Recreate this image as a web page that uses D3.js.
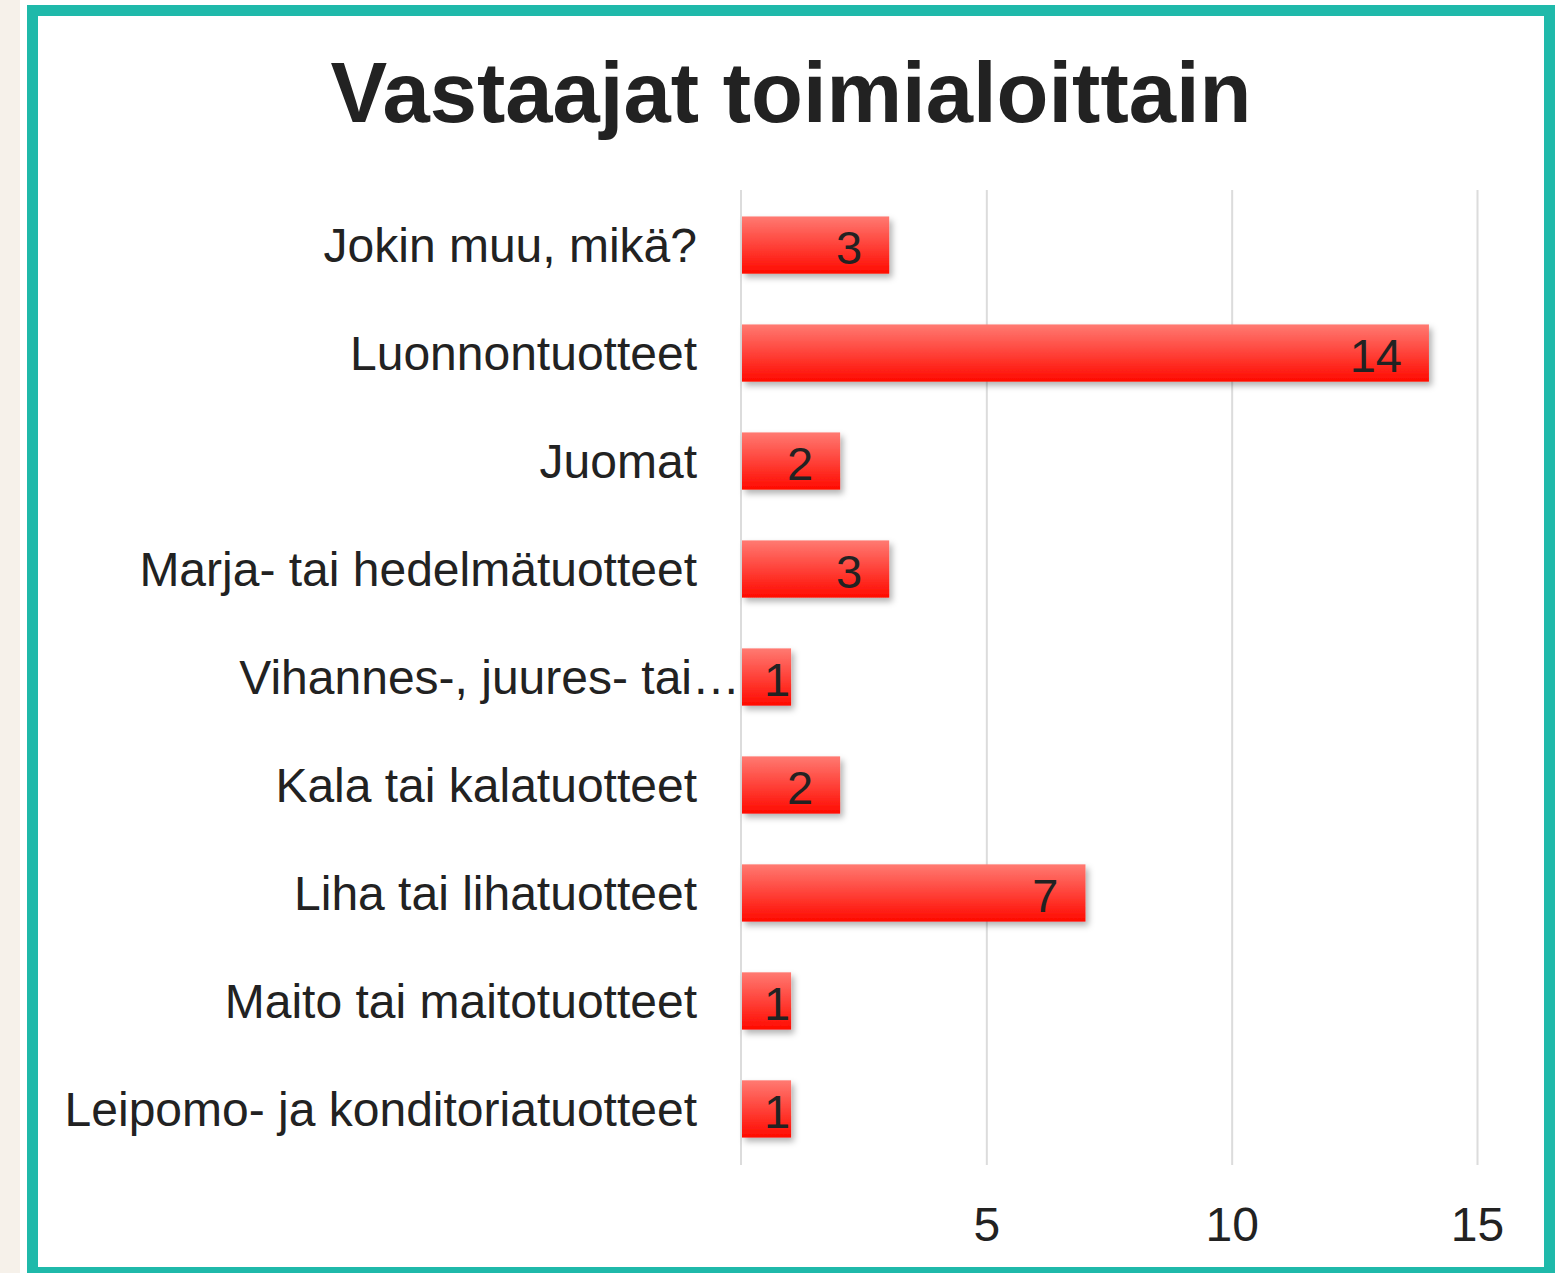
<!DOCTYPE html>
<html lang="fi">
<head>
    <meta charset="UTF-8">
    <title>Vastaajat toimialoittain</title>
    <script src="https://d3js.org/d3.v7.min.js"></script>
    <style>
        body {
            margin: 0;
            background-color: #f6f1ea;
            font-family: "Liberation Sans", Arial, sans-serif;
        }
        svg { display: block; }
        .title {
            font-size: 85px;
            font-weight: bold;
            fill: #222;
        }
        .cat text, .ticks text {
            font-family: "Liberation Sans", Arial, sans-serif;
            font-size: 48px;
            fill: #222;
        }
        .ticks line, .zero {
            stroke: #dcdcdc;
            stroke-width: 2;
        }
        .value {
            font-size: 47px;
            fill: #222;
        }
    </style>
</head>
<body>
<div id="chart"></div>
<script>
    // data
    var categories = [
        "Jokin muu, mikä?",
        "Luonnontuotteet",
        "Juomat",
        "Marja- tai hedelmätuotteet",
        "Vihannes-, juures- tai…",
        "Kala tai kalatuotteet",
        "Liha tai lihatuotteet",
        "Maito tai maitotuotteet",
        "Leipomo- ja konditoriatuotteet"
    ];
    var counts = [3, 14, 2, 3, 1, 2, 7, 1, 1];
    var xTicks = [5, 10, 15];
    var title = "Vastaajat toimialoittain";

    var W = 1557, H = 1273;

    var svg = d3.select("#chart").append("svg")
        .attr("width", W)
        .attr("height", H);

    var defs = svg.append("defs");
    var grad = defs.append("linearGradient")
        .attr("id", "barGrad")
        .attr("x1", 0).attr("y1", 0).attr("x2", 0).attr("y2", 1);
    grad.append("stop").attr("offset", "0%").attr("stop-color", "#ff7a72");
    grad.append("stop").attr("offset", "100%").attr("stop-color", "#ff0a00");

    var shadow = defs.append("filter")
        .attr("id", "shadow")
        .attr("x", "-10%").attr("y", "-20%")
        .attr("width", "130%").attr("height", "160%");
    shadow.append("feDropShadow")
        .attr("dx", 3).attr("dy", 4)
        .attr("stdDeviation", 3)
        .attr("flood-color", "#000")
        .attr("flood-opacity", 0.3);

    // white panel + teal frame
    svg.append("rect")
        .attr("x", 20).attr("y", 0)
        .attr("width", W - 20).attr("height", H)
        .attr("fill", "#fff");
    svg.append("rect")
        .attr("x", 32.5).attr("y", 10.5)
        .attr("width", 1517).attr("height", 1262)
        .attr("fill", "none")
        .attr("stroke", "#1fb9aa")
        .attr("stroke-width", 11);

    svg.append("text")
        .attr("class", "title")
        .attr("x", 791)
        .attr("y", 122)
        .attr("text-anchor", "middle")
        .text(title);

    // scales
    var x = d3.scaleLinear().domain([0, 15]).range([741, 1477]);
    var y = d3.scaleBand()
        .domain(categories)
        .range([190, 1164])
        .paddingInner(0.47)
        .paddingOuter(0.245);

    var plotTop = 190, plotBottom = 1165;

    // grid + tick labels
    var xAxis = svg.append("g")
        .attr("class", "ticks")
        .attr("transform", "translate(0," + plotBottom + ")")
        .call(d3.axisBottom(x)
            .tickValues(xTicks)
            .tickSize(-(plotBottom - plotTop))
            .tickPadding(42)
            .tickFormat(d3.format("d")));
    xAxis.select(".domain").remove();

    svg.append("line")
        .attr("class", "zero")
        .attr("x1", x(0)).attr("x2", x(0))
        .attr("y1", plotTop).attr("y2", plotBottom);

    // category labels
    var yAxis = svg.append("g")
        .attr("class", "cat")
        .attr("transform", "translate(" + x(0) + ",0)")
        .call(d3.axisLeft(y).tickSize(0).tickPadding(44));
    yAxis.select(".domain").remove();
    yAxis.selectAll("text")
        .attr("dy", "0.36em")
        .filter(function(d) { return /…$/.test(d); })
        .attr("x", -1);

    // bars
    svg.append("g").selectAll("rect")
        .data(categories)
        .join("rect")
        .attr("x", x(0) + 1)
        .attr("y", function(d) { return y(d); })
        .attr("width", function(d, i) { return x(counts[i]) - x(0); })
        .attr("height", y.bandwidth())
        .attr("fill", "url(#barGrad)")
        .attr("filter", "url(#shadow)");

    // value labels (pushed to bar end when the bar is too short)
    svg.append("g").selectAll("text")
        .data(categories)
        .join("text")
        .attr("class", "value")
        .attr("y", function(d) { return y(d) + y.bandwidth() / 2 + 2; })
        .attr("dy", "0.36em")
        .attr("text-anchor", "end")
        .text(function(d, i) { return counts[i]; })
        .attr("x", function(d, i) {
            var end = x(counts[i]);
            var w = this.getComputedTextLength();
            return (end - 26 - w < x(0)) ? end : end - 26;
        });
</script>
</body>
</html>
